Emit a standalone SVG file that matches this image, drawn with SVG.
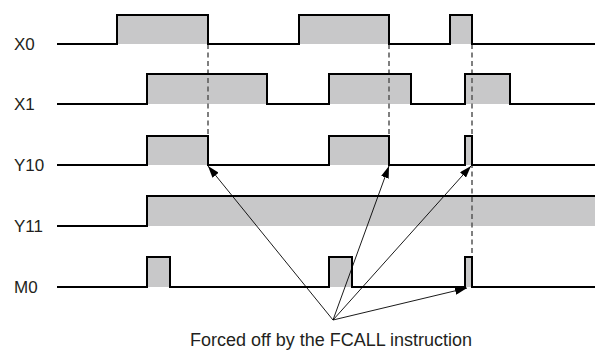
<svg xmlns="http://www.w3.org/2000/svg" width="595" height="350" viewBox="0 0 595 350">
<style>
.lbl{font-family:"Liberation Sans",Arial,sans-serif;font-size:17px;fill:#231f20}
.cap{font-family:"Liberation Sans",Arial,sans-serif;font-size:18px;fill:#231f20}
.fill{fill:#c8c8c9;stroke:none}
.wave{fill:none;stroke:#000;stroke-width:2;stroke-linejoin:miter}
.dash{fill:none;stroke:#555;stroke-width:1.5;stroke-dasharray:5,3.5}
.arr{fill:none;stroke:#000;stroke-width:0.9;marker-end:url(#ah)}
</style>
<defs>
<marker id="ah" viewBox="0 0 12 8" refX="12" refY="4" markerWidth="12" markerHeight="8" markerUnits="userSpaceOnUse" orient="auto">
<path d="M0,0 L12,4 L0,8 Z" fill="#000"/>
</marker>
</defs>
<rect width="595" height="350" fill="#fff"/>
<g id="X0">
<rect class="fill" x="117" y="15" width="91" height="29"/>
<rect class="fill" x="299" y="15" width="90" height="29"/>
<rect class="fill" x="450" y="15" width="22" height="29"/>
<text class="lbl" x="14" y="50">X0</text>
</g>
<g id="X1">
<rect class="fill" x="147" y="74" width="120" height="30"/>
<rect class="fill" x="329" y="74" width="82" height="30"/>
<rect class="fill" x="465" y="74" width="45" height="30"/>
<text class="lbl" x="14" y="110">X1</text>
</g>
<g id="Y10">
<rect class="fill" x="147" y="136" width="61" height="29"/>
<rect class="fill" x="329" y="136" width="60" height="29"/>
<rect class="fill" x="465" y="136" width="7" height="29"/>
<text class="lbl" x="14" y="171">Y10</text>
</g>
<g id="Y11">
<rect class="fill" x="147" y="196" width="448" height="30"/>
<text class="lbl" x="14" y="232">Y11</text>
</g>
<g id="M0">
<rect class="fill" x="147" y="257" width="23" height="30"/>
<rect class="fill" x="329" y="257" width="23" height="30"/>
<rect class="fill" x="465" y="257" width="7" height="30"/>
<text class="lbl" x="14" y="293">M0</text>
</g>
<g id="dashes">
<path class="dash" d="M208,44 V165 M389,44 V165 M472,44 V287"/>
</g>
<g id="waves">
<path class="wave" d="M57,44 H117 V15 H208 V44 H299 V15 H389 V44 H450 V15 H472 V44 H595"/>
<path class="wave" d="M57,104 H147 V74 H267 V104 H329 V74 H411 V104 H465 V74 H510 V104 H595"/>
<path class="wave" d="M57,165 H147 V136 H208 V165 H329 V136 H389 V165 H465 V136 H472 V165 H595"/>
<path class="wave" d="M57,226 H147 V196 H595"/>
<path class="wave" d="M57,287 H147 V257 H170 V287 H329 V257 H352 V287 H465 V257 H472 V287 H595"/>
</g>
<g id="connectors">
<line class="arr" x1="333" y1="320" x2="208" y2="166"/>
<line class="arr" x1="333" y1="320" x2="389" y2="166"/>
<line class="arr" x1="333" y1="320" x2="471" y2="166"/>
<line class="arr" x1="333" y1="320" x2="467" y2="288"/>
</g>
<g id="caption">
<text class="cap" x="331" y="346" text-anchor="middle">Forced off by the FCALL instruction</text>
</g>
</svg>
